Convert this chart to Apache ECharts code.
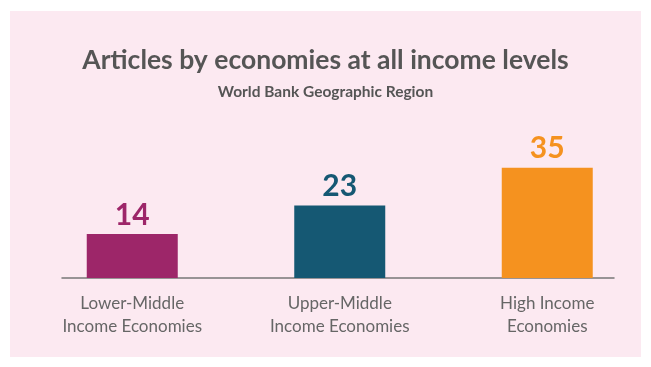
<!DOCTYPE html>
<html><head><meta charset="utf-8">
<script src="https://cdn.jsdelivr.net/npm/echarts@6/dist/echarts.min.js"></script>
<style>html,body{margin:0;padding:0;background:#fff}#c{width:651px;height:367px}</style>
</head><body><div id="c"></div>
<script>
const categories = ['Lower-Middle\nIncome Economies', 'Upper-Middle\nIncome Economies', 'High Income\nEconomies'];
const values = [14, 23, 35];
const barColors = ['#9d2669', '#155873', '#f5921f'];
const titleText = 'Articles by economies at all income levels';
const subtitleText = 'World Bank Geographic Region';

const FONT = 'Lato';
const chart = echarts.init(document.getElementById('c'), null, {renderer: 'canvas'});
chart.setOption({
  backgroundColor: '#ffffff',
  animation: false,
  graphic: [{type: 'rect', left: 10, top: 11, shape: {width: 631, height: 346}, style: {fill: '#fce9f1'}, z: -10}],
  title: {
    text: titleText, subtext: subtitleText, left: 'center', top: 42, itemGap: 10,
    textStyle: {fontFamily: FONT, fontWeight: 'bold', fontSize: 26.5, color: '#555555'},
    subtextStyle: {fontFamily: FONT, fontWeight: 'bold', fontSize: 15.5, color: '#555555'}
  },
  grid: [
    {left: 28.5, width: 630, top: 152, height: 126},
    {left: 62, width: 552, top: 152, height: 126}
  ],
  xAxis: [
    {type: 'category', gridIndex: 0, data: categories,
     axisLine: {show: false}, axisTick: {show: false},
     axisLabel: {fontFamily: FONT, fontSize: 17, color: '#666666', lineHeight: 23, margin: 14}},
    {type: 'category', gridIndex: 1, data: categories,
     axisLine: {show: true, lineStyle: {color: '#777777', width: 1.5}}, axisTick: {show: false}, axisLabel: {show: false}}
  ],
  yAxis: [
    {type: 'value', gridIndex: 0, min: 0, max: 40, show: false, splitLine: {show: false}},
    {type: 'value', gridIndex: 1, min: 0, max: 40, show: false, splitLine: {show: false}}
  ],
  series: [{
    type: 'bar', xAxisIndex: 0, yAxisIndex: 0, barWidth: 91,
    data: values.map((v, i) => ({value: v, itemStyle: {color: barColors[i]}, label: {color: barColors[i]}})),
    label: {show: true, position: 'top', distance: 4, fontFamily: FONT, fontWeight: 'bold', fontSize: 30}
  }]
});
</script></body></html>
